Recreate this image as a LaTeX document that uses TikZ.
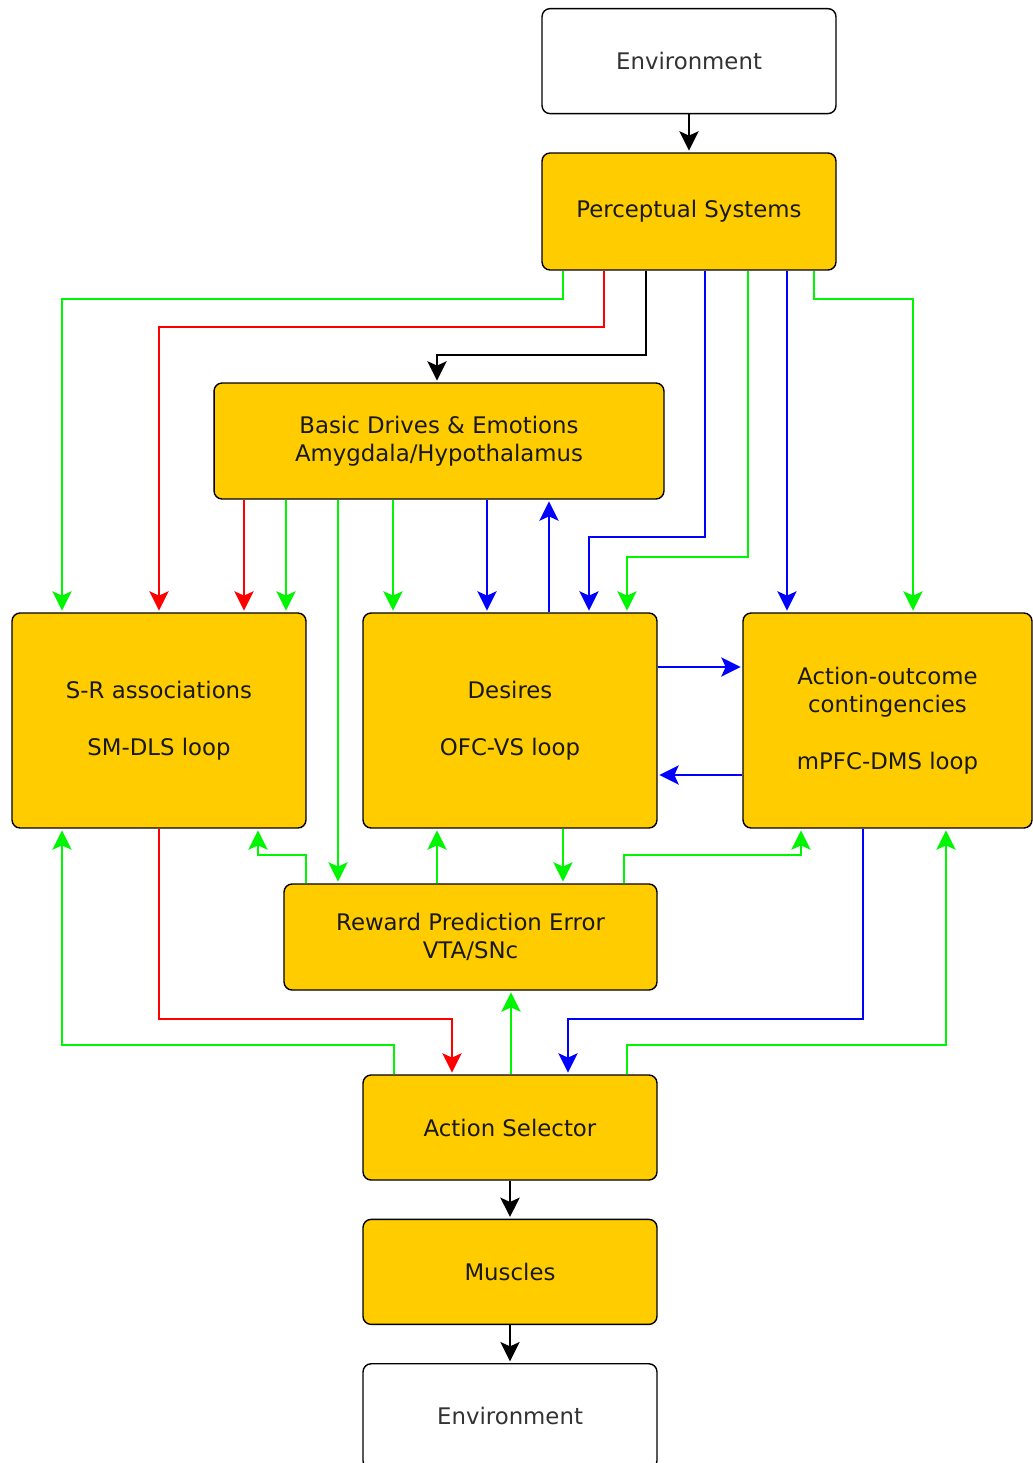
\documentclass[tikz,border=0pt]{standalone}
\usepackage{fontspec}
\setmainfont{DejaVu Sans}
\usepackage{tikz}
\definecolor{boxfill}{RGB}{255, 204, 0}
\definecolor{linkgreen}{RGB}{0, 245, 0}
\definecolor{linkred}{RGB}{255, 0, 0}
\definecolor{linkblue}{RGB}{0, 0, 255}
\usetikzlibrary{
  arrows.meta,
  calc,
  positioning,
}
\tikzset{
  >={Stealth[length=11pt, width=11pt, inset=2.5pt]},
  shorten >=1pt,
}

\begin{document}
\begin{tikzpicture}[x=0.02cm, y=-0.02cm,
    font=\fontsize{13}{16.2}\selectfont,
    box/.style={draw, thick, rounded corners=0.16cm, fill=boxfill, text=black!90,
                align=center, minimum width=5.88cm, minimum height=2.1cm,
                inner sep=0pt, node distance=0.76cm},
    envbox/.style={box, fill=white, text=black!80},
    tall/.style={minimum height=4.3cm},
    link/.style={->, line width=0.035cm},
    glink/.style={link, linkgreen},
    rlink/.style={link, linkred},
    blink/.style={link, linkblue},
    klink/.style={link, black}]
      \useasboundingbox (0,0) rectangle (1033,1463);
      \node [box, minimum height=2.34cm] (percep) at (689,211.5) {Perceptual Systems};
      \node [envbox, above=of percep] (envtop) {Environment};
      \node [box, minimum width=9cm, minimum height=2.32cm] (drives) at (439,441)
            {Basic Drives \& Emotions\\Amygdala/Hypothalamus};
      \node [box, tall] (sr) at (159,720.5) {S-R associations\\[\baselineskip]SM-DLS loop};
      \node [box, tall] (desires) at (510,720.5) {Desires\\[\baselineskip]OFC-VS loop};
      \node [box, tall, minimum width=5.78cm] (aoc) at (887.5,720.5)
            {Action-outcome\\contingencies\\[\baselineskip]mPFC-DMS loop};
      \node [box, minimum width=7.46cm, minimum height=2.12cm] (rpe) at (470.5,937)
            {Reward Prediction Error\\VTA/SNc};
      \node [box] (select) at (510,1127.5) {Action Selector};
      \node [box, below=of select] (muscles) {Muscles};
      \node [envbox, below=of muscles] (envbot) {Environment};

      \draw [klink] (envtop) -- (percep);
      \draw [glink] (percep.south -| 563,0) -- ++(0,28) -| (sr.north -| 62,0);
      \draw [rlink] (percep.south -| 604,0) -- ++(0,56) -| (sr.north -| 159,0);
      \draw [klink] (percep.south -| 646,0) -- ++(0,84) -| (drives.north -| 437,0);
      \draw [blink] (percep.south -| 705,0) -- ++(0,266) -| (desires.north -| 589,0);
      \draw [glink] (percep.south -| 748,0) -- ++(0,286) -| (desires.north -| 627,0);
      \draw [blink] (percep.south -| 787,0) -- (aoc.north -| 787,0);
      \draw [glink] (percep.south -| 814,0) -- ++(0,28) -| (aoc.north -| 913,0);

      \draw [rlink] (drives.south -| 244,0) -- (sr.north -| 244,0);
      \draw [glink] (drives.south -| 286,0) -- (sr.north -| 286,0);
      \draw [glink] (drives.south -| 338,0) -- (rpe.north -| 338,0);
      \draw [glink] (drives.south -| 393,0) -- (desires.north -| 393,0);
      \draw [blink] (drives.south -| 487,0) -- (desires.north -| 487,0);
      \draw [blink] (desires.north -| 549,0) -- (drives.south -| 549,0);

      \draw [blink] (desires.east |- 0,667) -- (aoc.west |- 0,667);
      \draw [blink] (aoc.west |- 0,775) -- (desires.east |- 0,775);

      \draw [glink] (rpe.north -| 306,0) -- ++(0,-28) -| (sr.south -| 258,0);
      \draw [glink] (rpe.north -| 437,0) -- (desires.south -| 437,0);
      \draw [glink] (desires.south -| 563,0) -- (rpe.north -| 563,0);
      \draw [glink] (rpe.north -| 624,0) -- ++(0,-28) -| (aoc.south -| 801,0);

      \draw [rlink] (sr.south) -- ++(0,190) -| (select.north -| 452,0);
      \draw [blink] (aoc.south -| 863,0) -- ++(0,190) -| (select.north -| 568,0);
      \draw [glink] (select.north -| 394,0) -- ++(0,-29) -| (sr.south -| 62,0);
      \draw [glink] (select.north -| 511,0) -- (rpe.south -| 511,0);
      \draw [glink] (select.north -| 627,0) -- ++(0,-29) -| (aoc.south -| 946,0);
      \draw [klink] (select) -- (muscles);
      \draw [klink] (muscles) -- (envbot);
    \end{tikzpicture}
\end{document}
